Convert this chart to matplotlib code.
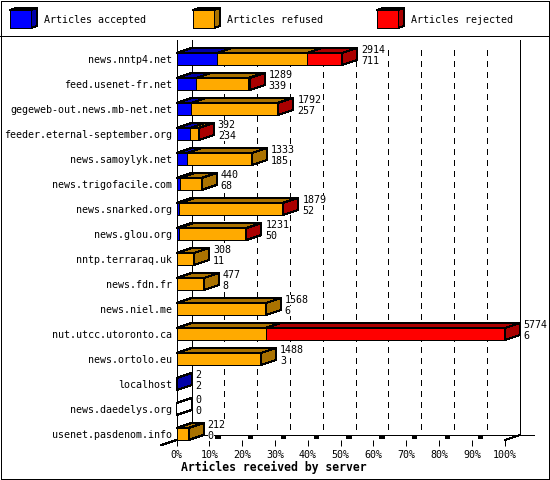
"""Articles received by server: stacked pseudo-3D bars."""
import matplotlib

matplotlib.use("Agg")
import matplotlib.pyplot as plt
from matplotlib.lines import Line2D
from matplotlib.patches import Polygon, Rectangle

servers = ["news.nntp4.net", "feed.usenet-fr.net", "gegeweb-out.news.mb-net.net",
           "feeder.eternal-september.org", "news.samoylyk.net", "news.trigofacile.com",
           "news.snarked.org", "news.glou.org", "nntp.terraraq.uk", "news.fdn.fr",
           "news.niel.me", "nut.utcc.utoronto.ca", "news.ortolo.eu", "localhost",
           "news.daedelys.org", "usenet.pasdenom.info"]
totals = [2914, 1289, 1792, 392, 1333, 440, 1879, 1231, 308, 477, 1568, 5774, 1488, 2, 0, 212]
accepted = [711, 339, 257, 234, 185, 68, 52, 50, 11, 8, 6, 6, 3, 2, 0, 0]
refused = [1580, 913, 1520, 141, 1148, 372, 1812, 1170, 297, 469, 1562, 1560, 1485, 0, 0, 212]
rejected = [623, 37, 15, 17, 0, 0, 15, 11, 0, 0, 0, 4208, 0, 0, 0, 0]
series = [("Articles accepted", "#0000ff", "#0000a8"),
          ("Articles refused", "#ffaa00", "#aa7200"),
          ("Articles rejected", "#ff0000", "#aa0000")]
pct_ticks = list(range(0, 101, 10))
FULL = max(totals)

plt.rcParams["font.family"] = "DejaVu Sans Mono"
LW = 0.72
TXT = 7.2
line = dict(color="black", lw=LW, aa=False, clip_on=False)
edge = dict(ec="black", lw=LW, aa=False, clip_on=False)
clear = dict(fc="white", ec="none", pad=0)

W, H = 550, 480
fig = plt.figure(figsize=(W / 100, H / 100), dpi=100)
bg = fig.add_axes([0, 0, 1, 1])
bg.set_xlim(0, W)
bg.set_ylim(H, 0)
bg.axis("off")
bg.add_patch(Rectangle((0.5, 0.5), W - 1.5, H - 1.5, fc="none", **edge))
bg.add_line(Line2D([0, W], [35.5, 35.5], **line))

# legend boxes
for (name, front, dark), lx, tx in zip(series, (10, 193, 377), (44, 227, 411)):
    bg.add_patch(Polygon([(lx, 10), (lx + 21, 10), (lx + 27, 8), (lx + 6, 8)], fc=dark, **edge))
    bg.add_patch(Polygon([(lx + 21, 10), (lx + 27, 8), (lx + 27, 26), (lx + 21, 28)], fc=dark, **edge))
    bg.add_patch(Rectangle((lx, 10), 21, 18, fc=front, **edge))
    bg.text(tx, 20, name, fontsize=TXT, va="center", ha="left")

# front plane of the plot: x in percent, y in rows
x0, x1, y0, y1 = 176.5, 504.7, 40, 440
ax = fig.add_axes([x0 / W, 1 - y1 / H, (x1 - x0) / W, (y1 - y0) / H])
ax.patch.set_alpha(0)
ax.set_xlim(0, 100)
ax.set_ylim(15.24, -0.76)
for s in ax.spines.values():
    s.set_visible(False)
DX = 15 / 3.282
DY = 5 / 25
BAR = 12 / 25
FLOOR = 15.24

# walls and grid
ax.add_line(Line2D([0, 0], [-0.76, FLOOR], **line))
ax.add_line(Line2D([DX, DX], [-0.76, FLOOR - DY], **line))
ax.add_line(Line2D([100 + DX, 100 + DX], [-0.76, FLOOR - DY], **line))
ax.add_line(Line2D([DX, 109], [FLOOR - DY, FLOOR - DY], **line))
ax.add_line(Line2D([-DX, DX], [FLOOR + DY, FLOOR - DY], **line))
ax.add_line(Line2D([100, 100 + DX], [FLOOR, FLOOR - DY], **line))
for p in pct_ticks[1:-1]:
    ax.add_line(Line2D([p + DX, p + DX], [-0.36, FLOOR - DY], ls=(0, (5.5, 5.5)), **line))
    # small floor marks behind each tick
    ax.add_line(Line2D([p + 2.4, p + 2.8], [FLOOR - 0.12, FLOOR - 0.12], color="black", lw=1.6,
                       aa=False, clip_on=False))

for i, name in enumerate(servers):
    top, bot = i - BAR / 2, i + BAR / 2
    left = 0.0
    last = None
    for v, (_, front, dark) in zip((accepted[i], refused[i], rejected[i]), series):
        if v == 0:
            continue
        w = v / FULL * 100
        right = left + w
        ax.add_patch(Polygon([(left, top), (right, top), (right + DX, top - DY), (left + DX, top - DY)],
                             fc=dark, zorder=3, **edge))
        ax.add_patch(Rectangle((left, top), w, BAR, fc=front, zorder=4, **edge))
        left = right
        last = dark
    side = last if last else "white"
    ax.add_patch(Polygon([(left, top), (left + DX, top - DY), (left + DX, bot - DY), (left, bot)],
                         fc=side, zorder=5, **edge))
    end = left + DX
    ax.annotate(str(totals[i]), (end, i), xytext=(4, 9), textcoords="offset pixels", fontsize=TXT,
                va="center", ha="left", annotation_clip=False, zorder=6, bbox=clear)
    ax.annotate(str(accepted[i]), (end, i), xytext=(4, -2), textcoords="offset pixels", fontsize=TXT,
                va="center", ha="left", annotation_clip=False, zorder=6, bbox=clear)

ax.set_yticks(range(len(servers)), servers, fontsize=TXT)
ax.tick_params(axis="y", length=0, pad=3)
ax.set_xticks(pct_ticks, [f"{p}%" for p in pct_ticks], fontsize=TXT)
ax.tick_params(axis="x", length=4, width=LW, pad=3)
ax.set_xlabel("Articles received by server", fontsize=8.3, fontweight="bold")
ax.xaxis.set_label_coords((274 - x0) / (x1 - x0), -27 / (y1 - y0), transform=ax.transAxes)
ax.xaxis.label.set_va("center")

fig.savefig("out.png", dpi=100)
